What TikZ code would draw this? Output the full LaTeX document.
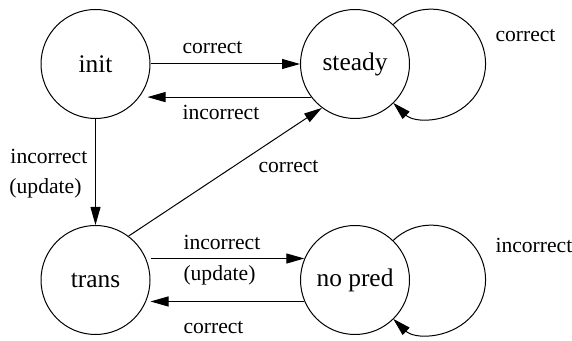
\documentclass[tikz,border=0pt]{standalone}
\usepackage{fontspec}
\setmainfont{Liberation Serif}
\usetikzlibrary{shapes,arrows.meta,positioning}

\begin{document}
\begin{tikzpicture}[x=0.5pt,y=0.5pt,line width=0.5pt,
	>={Triangle[length=9pt,width=5pt]},
	state/.style={shape=circle,draw,minimum size=54.5pt,inner sep=0pt,font=\fontsize{12.7}{15}\selectfont},
	lbl/.style={anchor=west,inner sep=0pt,font=\fontsize{10.8}{13}\selectfont}]
	\useasboundingbox (0,0) rectangle (572,341);

	\node[state] (init) at (95.5,277) {init};
	\node[state] (steady) at (355,277) {steady};
	\node[state] (trans) at (95.5,61) {trans};
	\node[state] (nopred) at (355,61) {no pred};

	\path [->] (init) edge (steady);
	\path [->] (steady.217) edge ([xshift=-1.5pt]init.east |- steady.217);
	\path [->] (init) edge (trans);
	\path [->] (trans.53) edge (steady.233);
	\path [->] (trans.east |- nopred.157) edge (nopred.157);
	\path [->] (nopred.203) edge (trans.east |- nopred.203);

	% self loops
	\draw [->] (steady.46) arc[start angle=134,end angle=-134,radius=27.25pt];
	\draw [->] (nopred.46) arc[start angle=134,end angle=-134,radius=27.25pt];

	\node[lbl] (c1) at (182,293) {correct};
	\node[lbl] (i1) at (182,229) {incorrect};
	\node[lbl] (i2) at (10,185) {incorrect};
	\node[lbl] (u1) at (9,153) {(update)};
	\node[lbl] (c2) at (258,174) {correct};
	\node[lbl] (i3) at (183,99) {incorrect};
	\node[lbl] (u2) at (183,66) {(update)};
	\node[lbl] (c3) at (183,13) {correct};
	\node[lbl] (c4) at (495,305) {correct};
	\node[lbl] (i4) at (495,96) {incorrect};
\end{tikzpicture}
\end{document}
